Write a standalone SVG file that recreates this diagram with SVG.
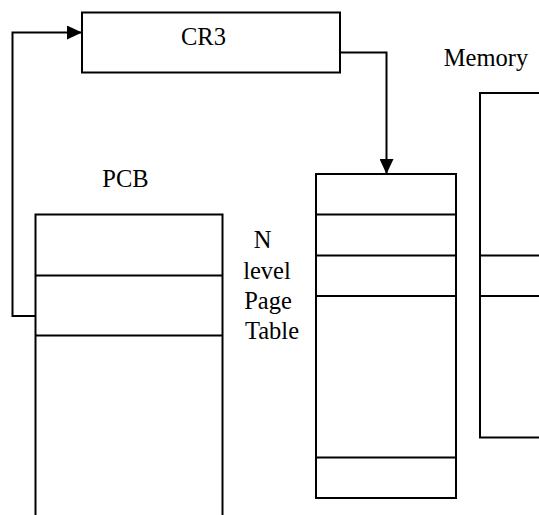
<svg xmlns="http://www.w3.org/2000/svg" width="539" height="515" viewBox="0 0 539 515">
<style>
.box{fill:#fff;stroke:#000;stroke-width:2}
.ln{stroke:#000;stroke-width:2;fill:none}
.t{font-family:"Liberation Serif","Times New Roman",serif;font-size:24.5px;fill:#000}
</style>
<defs>
<marker id="ah" markerWidth="15" markerHeight="14" refX="15" refY="7" orient="auto" markerUnits="userSpaceOnUse">
<path d="M0,0 L15,7 L0,14 Z" fill="#000"/>
</marker>
</defs>
<rect width="539" height="515" fill="#fff"/>
<g id="cr3">
<rect class="box" x="82" y="12.5" width="258" height="60"/>
<text class="t" x="203.5" y="45" text-anchor="middle">CR3</text>
</g>
<g id="memory">
<text class="t" x="486" y="66" text-anchor="middle">Memory</text>
<rect class="box" x="480" y="93" width="80" height="344.5"/>
<line class="ln" x1="480" y1="255.5" x2="539" y2="255.5"/>
<line class="ln" x1="480" y1="296" x2="539" y2="296"/>
</g>
<g id="pcb">
<text class="t" x="125.5" y="186.5" text-anchor="middle">PCB</text>
<rect class="box" x="35.5" y="214.5" width="187" height="310"/>
<line class="ln" x1="35.5" y1="275.5" x2="222.5" y2="275.5"/>
<line class="ln" x1="35.5" y1="335.5" x2="222.5" y2="335.5"/>
</g>
<g id="pagetable">
<text class="t" text-anchor="middle"><tspan x="262.5" y="248">N</tspan><tspan x="267" y="278.5">level</tspan><tspan x="268" y="309">Page</tspan><tspan x="272" y="339">Table</tspan></text>
<rect class="box" x="316" y="174" width="140" height="324"/>
<line class="ln" x1="316" y1="214.5" x2="456" y2="214.5"/>
<line class="ln" x1="316" y1="255.5" x2="456" y2="255.5"/>
<line class="ln" x1="316" y1="296" x2="456" y2="296"/>
<line class="ln" x1="316" y1="457.5" x2="456" y2="457.5"/>
</g>
<g id="connectors">
<polyline class="ln" points="35.5,316 12.5,316 12.5,32.5 82,32.5" marker-end="url(#ah)"/>
<polyline class="ln" points="340,52.5 386.5,52.5 386.5,174" marker-end="url(#ah)"/>
</g>
</svg>
